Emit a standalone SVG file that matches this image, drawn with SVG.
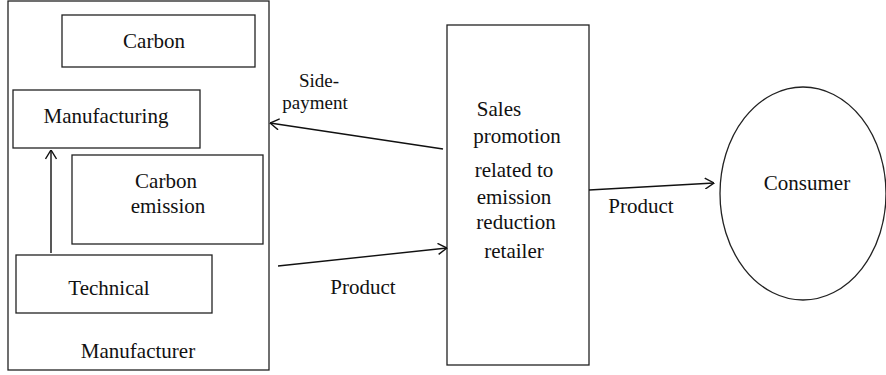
<svg xmlns="http://www.w3.org/2000/svg" width="886" height="375" viewBox="0 0 886 375">
<defs>
<style>
.box{fill:#fff;stroke:#222;stroke-width:1.3}
.t{font-family:'Liberation Serif','Times New Roman',Times,serif;font-size:21px;fill:#111;text-anchor:middle}
.s{font-size:19px}
.c{fill:none;stroke:#111;stroke-width:1.4}
</style>
<marker id="ah" viewBox="0 0 10 12" refX="9.5" refY="6" markerWidth="10" markerHeight="12" markerUnits="userSpaceOnUse" orient="auto">
<path d="M0.5,0.5 L9.5,6 L0.5,11.5" fill="none" stroke="#111" stroke-width="1.4"/>
</marker>
</defs>
<rect x="0" y="0" width="886" height="375" fill="#fff"/>
<g id="manufacturer">
<rect class="box" x="8" y="1" width="261" height="369"/>
<text class="t" x="138" y="358">Manufacturer</text>
</g>
<g id="carbon">
<rect class="box" x="62" y="15" width="193" height="52"/>
<text class="t" x="154" y="48">Carbon</text>
</g>
<g id="manufacturing">
<rect class="box" x="13" y="90" width="187" height="58"/>
<text class="t" x="106" y="123">Manufacturing</text>
</g>
<g id="carbon-emission">
<rect class="box" x="72" y="155" width="191" height="89"/>
<text class="t" x="166" y="188">Carbon</text>
<text class="t" x="168" y="213">emission</text>
</g>
<g id="technical">
<rect class="box" x="16" y="255" width="196" height="58"/>
<text class="t" x="109" y="295">Technical</text>
</g>
<g id="retailer">
<rect class="box" x="447" y="25" width="142" height="340"/>
<text class="t" x="499" y="116">Sales</text>
<text class="t" x="517" y="143">promotion</text>
<text class="t" x="514" y="177">related to</text>
<text class="t" x="514" y="204">emission</text>
<text class="t" x="516" y="229">reduction</text>
<text class="t" x="514" y="258">retailer</text>
</g>
<g id="consumer">
<ellipse class="box" cx="803" cy="193.5" rx="83" ry="106.5"/>
<text class="t" x="807" y="190">Consumer</text>
</g>
<g id="connectors">
<line class="c" x1="51" y1="253" x2="51" y2="150" marker-end="url(#ah)"/>
<line class="c" x1="443" y1="149" x2="270" y2="123" marker-end="url(#ah)"/>
<line class="c" x1="278" y1="266" x2="447" y2="248" marker-end="url(#ah)"/>
<line class="c" x1="589" y1="190" x2="714" y2="183" marker-end="url(#ah)"/>
<text class="t s" x="319" y="87">Side-</text>
<text class="t s" x="315" y="109">payment</text>
<text class="t" x="363" y="294">Product</text>
<text class="t" x="641" y="213">Product</text>
</g>
</svg>
